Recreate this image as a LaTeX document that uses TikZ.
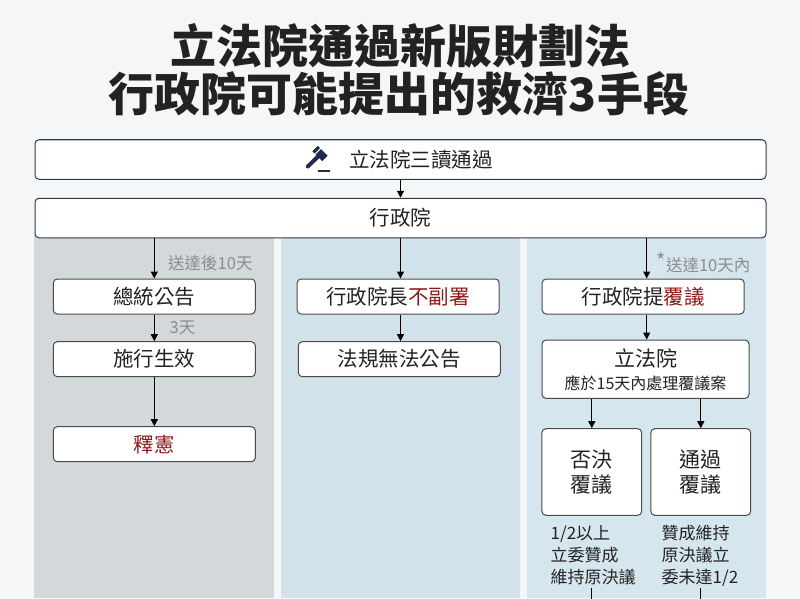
\documentclass[tikz,border=0pt]{standalone}
\usepackage{fontspec}
\setmainfont{Noto Sans CJK TC}
\usetikzlibrary{arrows.meta,calc}
\definecolor{bgc}{HTML}{F5F6F7}
\definecolor{colA}{HTML}{D3D8DB}
\definecolor{colB}{HTML}{D1E2EA}
\definecolor{colC}{HTML}{D6E6EF}
\definecolor{boxline}{HTML}{4A4A4A}
\definecolor{topline}{HTML}{2F3A4F}
\definecolor{redt}{HTML}{8B1A1A}
\definecolor{grayt}{HTML}{8C8C8C}
\definecolor{txt}{HTML}{222222}
\definecolor{navy}{HTML}{1F2A4D}
\newcommand{\fsz}[2]{\fontsize{#1}{#2}\selectfont}
\tikzset{
  box/.style={draw=boxline, line width=1pt, rounded corners=4pt, fill=white,
    minimum width=202pt, minimum height=35pt, inner sep=0pt, text=txt, font=\fsz{20.5}{25}},
  widebox/.style={box, draw=topline, minimum width=731pt, minimum height=39.5pt},
  arr/.style={draw=black, line width=1.1pt, -{Triangle[length=7pt,width=7pt]}},
  plainline/.style={draw=black, line width=1.1pt},
  glabel/.style={text=grayt, font=\fsz{16.5}{20}, inner sep=0pt, anchor=west},
  blabel/.style={text=txt, font=\fsz{17}{22}, inner sep=0pt, anchor=north west, align=left},
  pair/.style={box, minimum width=99.7pt, minimum height=86.6pt, align=center, font=\fsz{21}{25}},
}
\begin{document}
\begin{tikzpicture}[x=1pt,y=-1pt]
\useasboundingbox (0,0) rectangle (800,599);
\fill[bgc] (0,0) rectangle (800,599);
% title
\node[text=txt, font=\fsz{46}{50}\bfseries, inner sep=0pt] (t1) at (400.5,46) {立法院通過新版財劃法};
\node[text=txt, font=\fsz{46}{50}\bfseries, inner sep=0pt] (t2) at (399,93.5) {行政院可能提出的救濟3手段};
% columns
\fill[colA] (34,230) rectangle (273.5,597.5);
\fill[colB] (280.5,230) rectangle (519.5,597.5);
\fill[colC] (526.5,230) rectangle (765.5,597.5);
% top boxes
\node[widebox] (top) at (400.5,159.5) {};
\node[text=txt, font=\fsz{20.5}{25}, inner sep=0pt] (toptxt) at (421,159.5) {立法院三讀通過};
\node[widebox] (gov) at (400.5,218) {行政院};
\draw[arr] (top.south) -- (gov.north);
% gavel icon
\fill[navy] (327.6,155.8) -- (322.3,161.1) -- (312.4,151.2) -- (317.7,145.9) -- cycle;
\draw[white, line width=1pt] (320.8,148.3) -- (314.8,154.3);
\draw[navy, line width=4pt, line cap=round] (318,156.5) -- (307.8,166.5);
\draw[navy, line width=2.4pt] (318,171) -- (330,171);
% column 1
\node[box] (pres) at (154.3,296.5) {總統公告};
\node[box] (eff) at (154.3,359.2) {施行生效};
\node[box] (interp) at (154.3,444.2) {\textcolor{redt}{釋憲}};
\draw[arr] (gov.south -| pres.north) -- (pres.north);
\draw[arr] (pres.south) -- (eff.north);
\draw[arr] (eff.south) -- (interp.north);
\node[glabel] (l10) at (168,263) {送達後10天};
\node[glabel] (l3) at (169.5,328) {3天};
% column 2
\node[box] (nosign) at (398.2,296.5) {行政院長\textcolor{redt}{不副署}};
\node[box] (noann) at (399.3,359.2) {法規無法公告};
\draw[arr] (gov.south) -- (gov.south |- nosign.north);
\draw[arr] (gov.south |- nosign.south) -- (gov.south |- noann.north);
% column 3
\node[box] (recon) at (643.2,296.5) {行政院提\textcolor{redt}{覆議}};
\coordinate (c3) at (646.7,238);
\draw[arr] (c3) -- (c3 |- recon.north);
\node[glabel] (l10b) at (656.5,263) {\raisebox{3pt}{\fsz{20}{20}*}送達10天內};
\node[box, minimum width=207pt, minimum height=58.3pt] (leg) at (645.5,369.2) {};
\node[text=txt, font=\fsz{21}{25}, inner sep=0pt] (legt) at (645.5,358.5) {立法院};
\node[text=txt, font=\fsz{16}{20}, inner sep=0pt] (legs) at (645.5,383) {應於15天內處理覆議案};
\draw[arr] (c3 |- recon.south) -- (c3 |- leg.north);
\node[pair] (veto) at (591.8,472) {否決\\覆議};
\node[pair] (pass) at (700.8,472) {通過\\覆議};
\draw[arr] (leg.south -| veto.north) -- (veto.north);
\draw[arr] (leg.south -| pass.north) -- (pass.north);
\node[blabel] (vl) at (550.5,525.5) {1/2以上\\立委贊成\\維持原決議};
\node[blabel] (pl) at (661.5,525.5) {贊成維持\\原決議立\\委未達1/2};
\coordinate (va) at (591.8,588);
\coordinate (vb) at (591.8,599);
\coordinate (pa) at (700.8,588);
\coordinate (pb) at (700.8,599);
\draw[plainline] (va) -- (vb);
\draw[plainline] (pa) -- (pb);
\end{tikzpicture}
\end{document}
